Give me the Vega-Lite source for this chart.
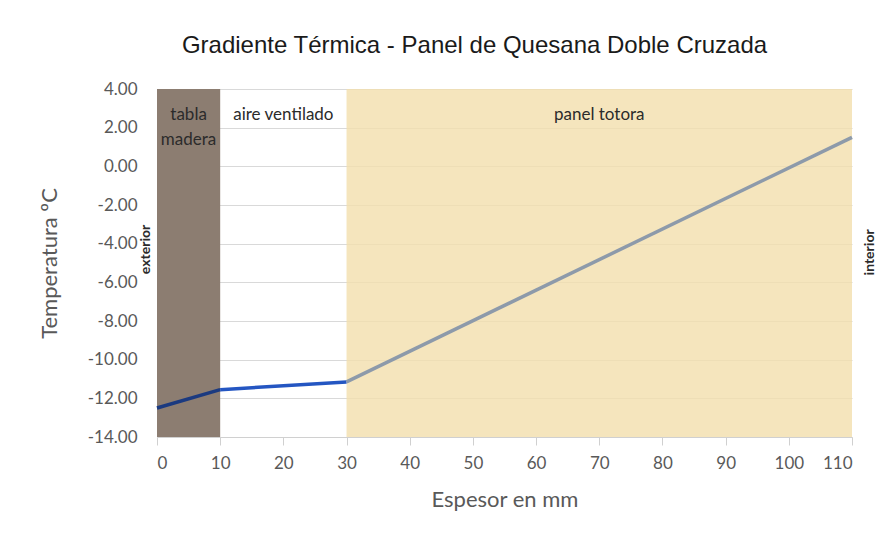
{
  "$schema": "https://vega.github.io/schema/vega-lite/v6.json",
  "width": 695,
  "height": 348,
  "autosize": {"type": "none"},
  "padding": {"left": 157, "top": 89, "right": 32, "bottom": 106},
  "background": "white",
  "title": {
    "text": "Gradiente Térmica - Panel de Quesana Doble Cruzada",
    "font": "Liberation Sans",
    "fontSize": 24,
    "fontWeight": "normal",
    "color": "#1a1a1a",
    "anchor": "middle",
    "dx": -30,
    "offset": 22
  },
  "config": {
    "view": {"stroke": null},
    "axis": {
      "labelFont": "Lato",
      "titleFont": "Lato",
      "labelColor": "#595959",
      "titleColor": "#595959",
      "labelFontSize": 17,
      "titleFontSize": 22,
      "titleFontWeight": "normal",
      "gridColor": "#d9d9d9",
      "domainColor": "#d0d0d0",
      "tickColor": "#d0d0d0",
      "labelOverlap": false
    },
    "axisY": {"grid": true, "domain": false, "ticks": false},
    "axisX": {"grid": false}
  },
  "datasets": {
    "bands": [
      {"x0": 0, "x1": 10, "y0": 4, "y1": -14, "material": "tabla madera", "op": 1},
      {"x0": 10, "x1": 30, "y0": 4, "y1": -14, "material": "aire ventilado", "op": 0},
      {"x0": 30, "x1": 110, "y0": 4, "y1": -14, "material": "panel totora", "op": 0.82}
    ],
    "temps": [
      {"espesor": 0, "temp": -12.5, "tramo": "a"},
      {"espesor": 10, "temp": -11.55, "tramo": "a"},
      {"espesor": 10, "temp": -11.55, "tramo": "b"},
      {"espesor": 30, "temp": -11.15, "tramo": "b"},
      {"espesor": 30, "temp": -11.15, "tramo": "c"},
      {"espesor": 110, "temp": 1.5, "tramo": "c"}
    ],
    "labels": [
      {"x": 5, "y": 2.65, "t": "tabla"},
      {"x": 5, "y": 1.35, "t": "madera"},
      {"x": 20, "y": 2.65, "t": "aire ventilado"},
      {"x": 70, "y": 2.65, "t": "panel totora"}
    ],
    "sides": [
      {"x": -1.7, "y": -4.3, "t": "exterior"},
      {"x": 112.9, "y": -4.45, "t": "interior"}
    ]
  },
  "encoding": {
    "x": {
      "type": "quantitative",
      "scale": {"domain": [0, 110], "nice": false},
      "axis": {
        "title": "Espesor en mm",
        "values": [0, 10, 20, 30, 40, 50, 60, 70, 80, 90, 100, 110],
        "tickSize": 8,
        "labelPadding": 10,
        "titlePadding": 18
      }
    },
    "y": {
      "type": "quantitative",
      "scale": {"domain": [-14, 4], "nice": false},
      "axis": {
        "title": "Temperatura ºC",
        "values": [-14, -12, -10, -8, -6, -4, -2, 0, 2, 4],
        "labelExpr": "replace(format(datum.value, '.2f'), '\u2212', '-')",
        "labelPadding": 20,
        "titlePadding": 26
      }
    }
  },
  "layer": [
    {
      "data": {"name": "bands"},
      "mark": {"type": "rect"},
      "encoding": {
        "x": {"field": "x0", "type": "quantitative"},
        "x2": {"field": "x1"},
        "y": {"field": "y0", "type": "quantitative"},
        "y2": {"field": "y1"},
        "opacity": {"field": "op", "type": "quantitative", "scale": null, "legend": null},
        "color": {
          "field": "material",
          "type": "nominal",
          "scale": {
            "domain": ["tabla madera", "aire ventilado", "panel totora"],
            "range": ["#8c7d71", "#ffffff", "#f3dfae"]
          },
          "legend": null
        }
      }
    },
    {
      "data": {"name": "temps"},
      "mark": {"type": "line", "strokeWidth": 3.5},
      "encoding": {
        "x": {"field": "espesor", "type": "quantitative"},
        "y": {"field": "temp", "type": "quantitative"},
        "detail": {"field": "tramo"},
        "stroke": {
          "field": "tramo",
          "type": "nominal",
          "scale": {"domain": ["a", "b", "c"], "range": ["#1b3a80", "#2456c2", "#8d9aaa"]},
          "legend": null
        }
      }
    },
    {
      "data": {"name": "labels"},
      "mark": {"type": "text", "font": "Lato", "fontSize": 17, "color": "#2b2b2b"},
      "encoding": {
        "x": {"field": "x", "type": "quantitative"},
        "y": {"field": "y", "type": "quantitative"},
        "text": {"field": "t"}
      }
    },
    {
      "data": {"name": "sides"},
      "mark": {"type": "text", "font": "Lato", "fontSize": 14, "fontWeight": "bold", "color": "#2b2b2b", "angle": 270},
      "encoding": {
        "x": {"field": "x", "type": "quantitative"},
        "y": {"field": "y", "type": "quantitative"},
        "text": {"field": "t"}
      }
    }
  ]
}
